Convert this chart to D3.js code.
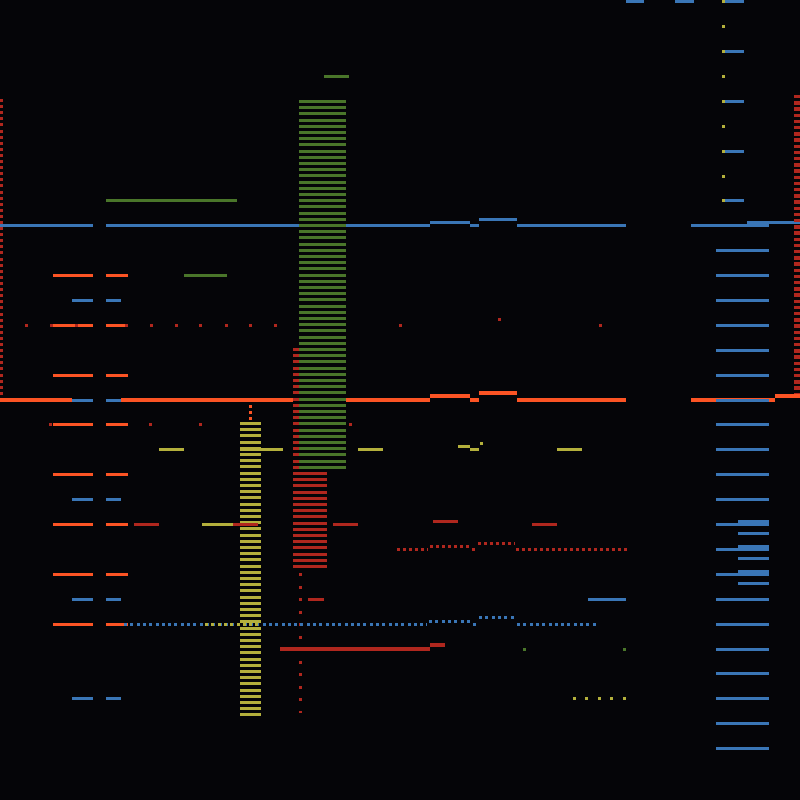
<!DOCTYPE html>
<html><head><meta charset="utf-8">
<script src="https://cdn.jsdelivr.net/npm/d3@7"></script>
<style>html,body{margin:0;padding:0;background:#050508;}svg{display:block}</style>
</head><body>
<script>
// ---- colours per series ----
const seriesNames = ["orange","blue","red","green","olive"];
const seriesColors = ["#fc5424","#3a76b6","#b0271e","#4a762a","#b4b03c"];

// ---- main step lines: [x1, x2, y] ----
const blueLine = [[0,93,225],[106,430,225],[430,470,222],[470,479,225],[479,517,219],[517,626,225],[691,769,225],[747,800,222]];
const orangeLine = [[0,72,400],[121,293,400],[346,430,400],[430,470,396],[470,479,400],[479,517,393],[517,626,400],[691,775,400],[775,800,396]];
const blueOnOrange = [[72,93,400],[106,121,400]];

// ---- tick rows ----
const orangeTickY = [275,325,375,424,474,524,574,624];
const orangeTickCols = [[53,93],[106,128]];
const blueTickY = [300,499,599,698];
const blueTickCols = [[72,93],[106,121]];
const rightLadderY = [250,275,300,325,350,375,400,424,449,474,499,524,549,574,599,624,649,673,698,723,748];
const rightThickY = [523,548,573];
const rightThinY = [533,558,583];
const topRightBlueY = [1,51,101,151,200];
const topRightOliveY = [1,26,51,76,101,126,151,176,200];
const topBlue = [[626,644,1],[675,694,1]];

// ---- other segments: [x1, x2, y] ----
const segGreen = [[324,349,76],[106,237,200],[184,227,275]];
const segOlive = [[159,184,449],[240,283,449],[358,383,449],[458,470,446],[470,479,449],[557,582,449],[202,258,524]];
const segRed = [[134,159,524],[233,258,524],[333,358,524],[433,458,521],[532,557,524],[308,324,599]];
const segRedThick = [[280,430,649],[430,445,645]];
const segBlue = [[588,626,599]];

// ---- dense ladders (vertical dashed bands): [x1, x2, y1, y2, dash, gap, series] ----
const bands = [
  [293,327,348,571,3,3.2,"red"],
  [299,346,100,470,3,3.2,"green"],
  [240,261,422,719,3,3.2,"olive"],
  [0,3,99,395,3,3.1,"red"],
  [794,800,95,394,3.4,2.8,"red"],
  [298.5,301.5,573,713,3,9.5,"red"],
  [248.5,251.5,405,421,3,3,"orange"]
];

// ---- dotted horizontal lines: [x1, x2, y, series, dash, gap] ----
const dotted = [
  [397,428,549,"red",3,3],[430,470,546,"red",3,3],[472,476,549,"red",3,3],[478,515,543,"red",3,3],[516,628,549,"red",3,3],
  [124,427,624,"blue",3,3.3],[429,470,621,"blue",3,3.3],[473,476,624,"blue",3,3],[479,515,617,"blue",3,3.3],[517,596,624,"blue",3,3.3]
];
const oliveDotted = [[205,262,624]];

// ---- isolated square points: [x, y] ----
const redPoints = [[26,325],[51,325],[76,325],[126,325],[151,325],[176,325],[200,325],[226,325],[250,325],[275,325],[400,325],[600,325],[499,319],[50,424],[150,424],[200,424],[350,424]];
const greenPoints = [[524,649],[624,649]];
const olivePoints = [[574,698],[586,698],[599,698],[611,698],[624,698],[481,443]];

const W = 800, H = 800;
const x = d3.scaleLinear().domain([0,800]).range([0,W]);
const y = d3.scaleLinear().domain([0,800]).range([0,H]);
const color = d3.scaleOrdinal().domain(seriesNames).range(seriesColors);

const svg = d3.select("body").append("svg").attr("width",W).attr("height",H);
svg.append("rect").attr("width",W).attr("height",H).attr("fill","#050508");

function segs(data, series, w) {
  svg.append("g").attr("shape-rendering","crispEdges").selectAll("rect").data(data).join("rect")
    .attr("x", d => x(d[0])).attr("width", d => x(d[1]) - x(d[0]))
    .attr("y", d => y(d[2]) - w/2).attr("height", w)
    .attr("fill", color(series));
}
function rows(ys, cols, series, w) {
  const data = [];
  ys.forEach(v => cols.forEach(c => data.push([c[0], c[1], v])));
  segs(data, series, w);
}
function points(data, series) {
  svg.append("g").attr("shape-rendering","crispEdges").selectAll("rect").data(data).join("rect")
    .attr("x", d => x(d[0]) - 1.5).attr("y", d => y(d[1]) - 1.5)
    .attr("width", 3).attr("height", 3).attr("fill", color(series));
}

// main lines
segs(blueLine, "blue", 3);
segs(orangeLine, "orange", 4);
segs(blueOnOrange, "blue", 3);

// ladders
svg.append("g").attr("shape-rendering","crispEdges").selectAll("line").data(bands).join("line")
  .attr("x1", d => (x(d[0]) + x(d[1]))/2).attr("x2", d => (x(d[0]) + x(d[1]))/2)
  .attr("y1", d => y(d[2])).attr("y2", d => y(d[3]))
  .attr("stroke", d => color(d[6])).attr("stroke-width", d => x(d[1]) - x(d[0]))
  .attr("stroke-dasharray", d => d[4] + "," + d[5]);

// ticks
rows(orangeTickY, orangeTickCols, "orange", 3);
rows(blueTickY, blueTickCols, "blue", 3);
rows(rightLadderY, [[716,769]], "blue", 3);
rows(rightThickY, [[738,769]], "blue", 6);
rows(rightThinY, [[738,769]], "blue", 3);
rows(topRightBlueY, [[725,744]], "blue", 3);
segs(topBlue, "blue", 3);

// other segments
segs(segGreen, "green", 3);
segs(segOlive, "olive", 3);
segs(segRed, "red", 3);
segs(segRedThick, "red", 4);
segs(segBlue, "blue", 3);

// dotted lines
svg.append("g").attr("shape-rendering","crispEdges").selectAll("line").data(dotted).join("line")
  .attr("x1", d => x(d[0])).attr("x2", d => x(d[1]))
  .attr("y1", d => y(d[2])).attr("y2", d => y(d[2]))
  .attr("stroke", d => color(d[3])).attr("stroke-width", 3)
  .attr("stroke-dasharray", d => d[4] + "," + d[5]);
svg.append("g").attr("shape-rendering","crispEdges").selectAll("line").data(oliveDotted).join("line")
  .attr("x1", d => x(d[0])).attr("x2", d => x(d[1]))
  .attr("y1", d => y(d[2])).attr("y2", d => y(d[2]))
  .attr("stroke", color("olive")).attr("stroke-width", 3)
  .attr("stroke-dasharray", "3,3.3");

// points
points(redPoints, "red");
points(greenPoints, "green");
points(olivePoints, "olive");
points(topRightOliveY.map(v => [723.5, v]), "olive");
</script>
</body></html>
